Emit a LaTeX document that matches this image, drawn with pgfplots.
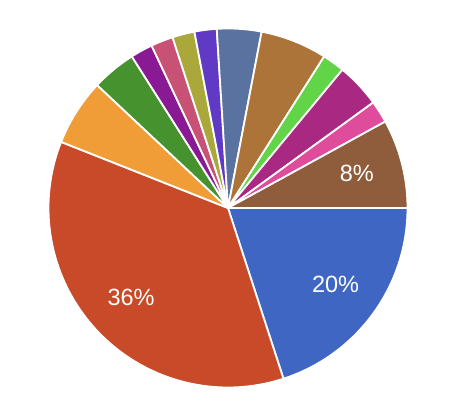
\documentclass[border=0pt]{standalone}
\usepackage{pgfplots}
\pgfplotsset{compat=1.18}
\usepackage{pgfplotstable}
\usepackage{fontspec}
\setmainfont{Liberation Sans}
\definecolor{c1}{HTML}{4066C4}
\definecolor{c2}{HTML}{C94A28}
\definecolor{c3}{HTML}{F09D38}
\definecolor{c4}{HTML}{45922F}
\definecolor{c5}{HTML}{8A1A94}
\definecolor{c6}{HTML}{C85275}
\definecolor{c7}{HTML}{AAA83A}
\definecolor{c8}{HTML}{603AC4}
\definecolor{c9}{HTML}{5A72A0}
\definecolor{c10}{HTML}{AC7438}
\definecolor{c11}{HTML}{62D448}
\definecolor{c12}{HTML}{A82882}
\definecolor{c13}{HTML}{E04C9C}
\definecolor{c14}{HTML}{8F5C3C}
\pgfplotstableread{
pct color
20 c1
36 c2
6 c3
4 c4
2 c5
2 c6
2 c7
2 c8
4 c9
6 c10
2 c11
4 c12
2 c13
8 c14
}\piedata
\begin{document}
\begin{tikzpicture}
\path (0,0) rectangle (450pt,412pt);
\begin{axis}[scale only axis, width=450pt, height=412pt,
  xmin=0, xmax=450, ymin=0, ymax=412, hide axis, clip=false]
\def\a{0}
\pgfplotsforeachungrouped \i in {0,...,13}{%
  \pgfplotstablegetelem{\i}{pct}\of\piedata \let\p\pgfplotsretval
  \pgfplotstablegetelem{\i}{color}\of\piedata \let\c\pgfplotsretval
  \pgfmathsetmacro\b{\a-3.6*\p}%
  \edef\cmd{\noexpand\addplot[fill=\c, draw=white, line width=1.8pt, line join=round, domain=\b:\a, samples=80]
    ({228+179.5*cos(x)},{204+179.5*sin(x)}) -- (axis cs:228,204) -- cycle;}%
  \cmd
  \pgfmathsetmacro\m{(\a+\b)/2}%
  \pgfmathsetmacro\lx{228+133*cos(\m)}%
  \pgfmathsetmacro\ly{206+133*sin(\m)}%
  \pgfmathparse{\p>7 ? 1 : 0}%
  \ifnum\pgfmathresult=1
    \edef\cmd{\noexpand\node[text=white, font=\noexpand\fontsize{23.5}{24}\noexpand\selectfont] at (axis cs:\lx,\ly) {\p\noexpand\%};}%
    \cmd
  \fi
  \let\a\b
}
\end{axis}
\end{tikzpicture}
\end{document}
